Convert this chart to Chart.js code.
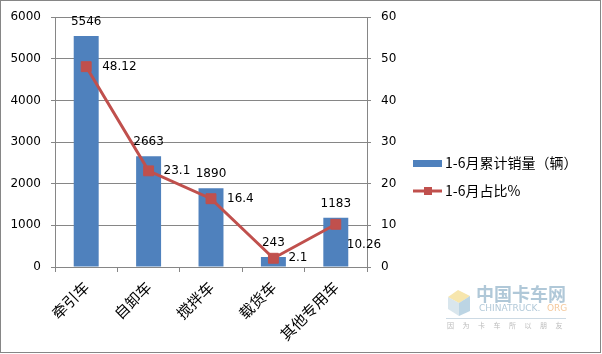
<!DOCTYPE html>
<html>
<head>
<meta charset="utf-8">
<script src="https://cdn.jsdelivr.net/npm/chart.js@4/dist/chart.umd.min.js"></script>
<style>
html,body{margin:0;padding:0;background:#fff;}
#wrap{width:602px;height:354px;position:relative;}
</style>
</head>
<body>
<div id="wrap"><canvas id="c" width="602" height="354"></canvas></div>
<script>
const categories = ['牵引车', '自卸车', '搅拌车', '载货车', '其他专用车'];
const salesValues = [5546, 2663, 1890, 243, 1183];
const shareValues = [48.12, 23.1, 16.4, 2.1, 10.26];
const salesLabels = ['5546', '2663', '1890', '243', '1183'];
const shareLabels = ['48.12', '23.1', '16.4', '2.1', '10.26'];
const seriesNames = ['1-6月累计销量（辆）', '1-6月占比%'];

const BLUE = '#4F81BD';
const RED = '#C0504D';
const GRID = '#868686';
const NUMFONT = '12px "DejaVu Sans", Verdana, sans-serif';
const CJKFONT = '"Noto Sans CJK SC", sans-serif';

const extras = {
  id: 'extras',
  afterDatasetsDraw(chart) {
    const ctx = chart.ctx;
    ctx.save();
    ctx.fillStyle = '#000';
    ctx.font = NUMFONT;
    const barMeta = chart.getDatasetMeta(1);
    barMeta.data.forEach((el, i) => {
      ctx.textAlign = 'center';
      ctx.textBaseline = 'middle';
      ctx.fillText(salesLabels[i], el.x, el.y - 14);
    });
    const lineMeta = chart.getDatasetMeta(0);
    const offs = [[16, 0], [15, 0], [16, 0], [15, 0], [11, 21]];
    lineMeta.data.forEach((el, i) => {
      ctx.textAlign = 'left';
      ctx.textBaseline = 'middle';
      ctx.fillText(shareLabels[i], el.x + offs[i][0], el.y + offs[i][1]);
    });
    ctx.restore();
  },
  afterDraw(chart) {
    const ctx = chart.ctx;
    ctx.save();
    // legend
    ctx.fillStyle = BLUE;
    ctx.fillRect(413, 160, 29, 7);
    ctx.strokeStyle = RED;
    ctx.lineWidth = 3;
    ctx.beginPath();
    ctx.moveTo(413, 191);
    ctx.lineTo(442, 191);
    ctx.stroke();
    ctx.fillStyle = RED;
    ctx.fillRect(424, 187, 8, 8);
    ctx.fillStyle = '#000';
    ctx.font = '14px ' + CJKFONT;
    ctx.textAlign = 'left';
    ctx.textBaseline = 'middle';
    ctx.fillText(seriesNames[0], 445, 163);
    ctx.fillText(seriesNames[1], 445, 191);

    // watermark
    ctx.globalAlpha = 0.7;
    ctx.fillStyle = '#f3dc8a';
    ctx.beginPath();
    ctx.moveTo(448, 297); ctx.lineTo(458, 290); ctx.lineTo(470, 296); ctx.lineTo(459, 303); ctx.closePath();
    ctx.fill();
    ctx.fillStyle = '#9fc3d8';
    ctx.beginPath();
    ctx.moveTo(459, 303); ctx.lineTo(470, 296); ctx.lineTo(470, 311); ctx.lineTo(459, 316); ctx.closePath();
    ctx.fill();
    ctx.fillStyle = '#c9dbe6';
    ctx.beginPath();
    ctx.moveTo(448, 297); ctx.lineTo(459, 303); ctx.lineTo(459, 316); ctx.lineTo(448, 309); ctx.closePath();
    ctx.fill();
    ctx.fillStyle = '#8fb1c8';
    ctx.font = 'bold 18px "Noto Sans CJK SC", sans-serif';
    ctx.textBaseline = 'middle';
    ctx.fillText('中国卡车网', 476, 294);
    ctx.font = '9px "DejaVu Sans", sans-serif';
    ctx.fillStyle = '#8fb1c8';
    ctx.fillText('CHINATRUCK.', 479, 309);
    ctx.fillStyle = '#f0b070';
    ctx.fillText('ORG', 547, 309);
    ctx.strokeStyle = '#b8cbd8';
    ctx.lineWidth = 1;
    ctx.beginPath(); ctx.moveTo(446, 318.5); ctx.lineTo(566, 318.5); ctx.stroke();
    ctx.fillStyle = '#a0a0a0';
    ctx.font = '7px "Noto Sans CJK SC", sans-serif';
    const wm = '因为卡车所以朋友';
    for (let i = 0; i < wm.length; i++) ctx.fillText(wm[i], 447 + i * 15.5, 325);
    ctx.globalAlpha = 1;

    // outer border
    ctx.strokeStyle = '#868686';
    ctx.lineWidth = 1;
    ctx.strokeRect(0.5, 0.5, 600, 352);
    ctx.restore();
  }
};

new Chart(document.getElementById('c'), {
  data: {
    labels: categories,
    datasets: [
      {
        type: 'line',
        label: seriesNames[1],
        data: shareValues,
        yAxisID: 'y2',
        borderColor: RED,
        backgroundColor: RED,
        borderWidth: 3,
        pointStyle: 'rect',
        pointRadius: 7,
        pointBorderWidth: 1,
        pointBackgroundColor: RED,
        pointBorderColor: RED,
        tension: 0,
        order: 0
      },
      {
        type: 'bar',
        label: seriesNames[0],
        data: salesValues,
        yAxisID: 'y',
        backgroundColor: BLUE,
        borderWidth: 0,
        categoryPercentage: 1,
        barPercentage: 0.4,
        order: 1
      }
    ]
  },
  options: {
    responsive: false,
    animation: false,
    devicePixelRatio: 1,
    layout: { padding: { left: 0, right: 195, top: 16, bottom: 0 } },
    plugins: { legend: { display: false }, tooltip: { enabled: false } },
    scales: {
      x: {
        offset: true,
        grid: { offset: true, drawOnChartArea: false, color: GRID, tickLength: 5 },
        border: { color: GRID },
        ticks: {
          color: '#000',
          font: { family: '"Noto Sans CJK SC", sans-serif', size: 15 },
          minRotation: 45, maxRotation: 45, padding: 6
        },
        afterFit(s) { s.height = 87; }
      },
      y: {
        position: 'left',
        min: 0, max: 6000,
        ticks: { stepSize: 1000, color: '#000', font: { family: '"DejaVu Sans", Verdana, sans-serif', size: 12 }, padding: 10, callback: v => String(v) },
        grid: { color: GRID, tickLength: 4 },
        border: { color: GRID },
        afterFit(s) { s.width = 55; }
      },
      y2: {
        position: 'right',
        min: 0, max: 60,
        ticks: { stepSize: 10, color: '#000', font: { family: '"DejaVu Sans", Verdana, sans-serif', size: 12 }, padding: 10, callback: v => String(v) },
        grid: { drawOnChartArea: false, color: GRID, tickLength: 4 },
        border: { color: GRID },
        afterFit(s) { s.width = 40; }
      }
    }
  },
  plugins: [extras]
});
</script>
</body>
</html>
